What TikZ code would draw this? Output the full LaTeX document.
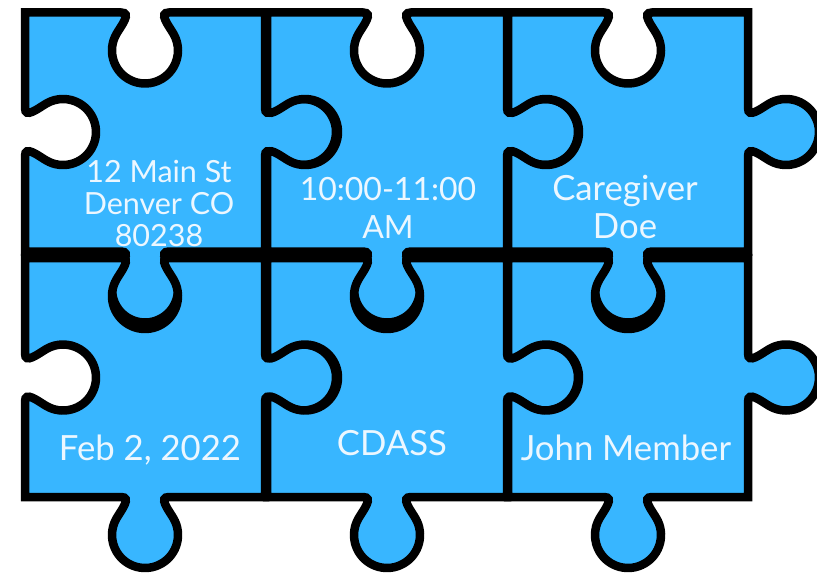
\documentclass[tikz,border=0pt]{standalone}
\usepackage{fontspec}
\setmainfont{Lato}
\usepackage{tikz}

% one puzzle piece, 240 x 239, top-left corner at the origin:
% hole on top and left, tab on right and bottom
\newcommand{\puzzlepiece}{%
	(0,0) -- (96,0) .. controls (107,0) and (96.56,12.7) .. (91.51,21.33)
	arc[start angle=210.33, end angle=-30.33, radius=33]
	.. controls (143.44,12.7) and (133,0) .. (144,0) -- (240,0)
	-- (240,95.5) .. controls (240,106.5) and (252.7,96.06) .. (261.33,91.01)
	arc[start angle=-120.33, end angle=120.33, radius=33]
	.. controls (252.7,142.94) and (240,132.5) .. (240,143.5) -- (240,239)
	-- (144,239) .. controls (133,239) and (143.44,251.7) .. (148.49,260.33)
	arc[start angle=-30.33, end angle=210.33, radius=33]
	.. controls (96.56,251.7) and (107,239) .. (96,239) -- (0,239)
	-- (0,143.5) .. controls (0,132.5) and (12.7,142.94) .. (21.33,147.99)
	arc[start angle=120.33, end angle=-120.33, radius=33]
	.. controls (12.7,96.06) and (0,106.5) .. (0,95.5) -- cycle}

\begin{document}
\begin{tikzpicture}[x=1pt, y=-1pt]
		
		\definecolor{puzzleblue}{RGB}{56,182,255}
		\definecolor{textwhite}{RGB}{236,247,255}
		
		\tikzset{piece/.style = {fill=puzzleblue, draw=black, line width=8.5pt, line join=miter}}
		\tikzset{piecetext/.style = {text=textwhite, align=center, inner sep=0pt}}
		
		\fill[white] (0,0) rectangle (817,578);
		\useasboundingbox (0,0) rectangle (817,578);
		
		% top row
		\draw[piece, shift={(25,12.5)}] \puzzlepiece;
		\draw[piece, shift={(267,12.5)}] \puzzlepiece;
		\draw[piece, shift={(508,12.5)}] \puzzlepiece;
		% bottom row
		\draw[piece, shift={(25,258)}] \puzzlepiece;
		\draw[piece, shift={(267,258)}] \puzzlepiece;
		\draw[piece, shift={(508,258)}] \puzzlepiece;
		
		\node[piecetext, font=\fontsize{30.5}{32}\selectfont] (address) at (159,203) {12 Main St\\Denver CO\\80238};
		\node[piecetext, font=\fontsize{32}{38}\selectfont] (hours) at (388,207.5) {10:00-11:00\\AM};
		\node[piecetext, font=\fontsize{34.7}{38}\selectfont] (caregiver) at (625,206.5) {Caregiver\\Doe};
		
		\node[piecetext, font=\fontsize{34.7}{40}\selectfont, anchor=base] (date) at (150,460) {Feb 2, 2022};
		\node[piecetext, font=\fontsize{34.7}{40}\selectfont, anchor=base] (agency) at (392,455) {CDASS};
		\node[piecetext, font=\fontsize{34.7}{40}\selectfont, anchor=base] (member) at (626,460) {John Member};
		
\end{tikzpicture}
\end{document}
